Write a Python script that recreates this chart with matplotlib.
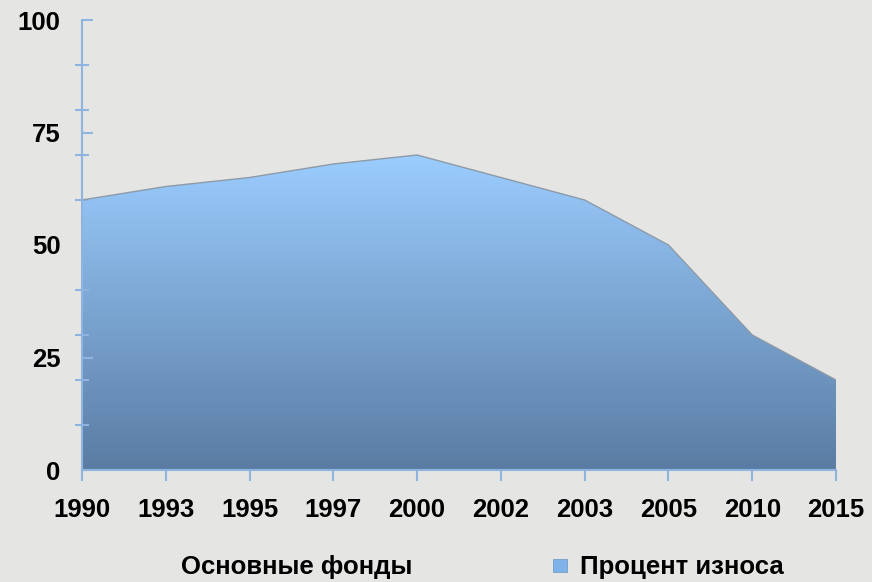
import numpy as np
import matplotlib
matplotlib.use("Agg")
import matplotlib.pyplot as plt
from matplotlib.colors import LinearSegmentedColormap
from matplotlib.patches import Polygon, Rectangle

years = ["1990", "1993", "1995", "1997", "2000", "2002", "2003", "2005", "2010", "2015"]
wear = [60, 63, 65, 68, 70, 65, 60, 50, 30, 20]
y_labels = [0, 25, 50, 75, 100]
series_name = "Процент износа"
x_title = "Основные фонды"

plt.rcParams['font.family'] = ['Liberation Sans', 'DejaVu Sans']
bg = "#e5e5e3"
fig = plt.figure(figsize=(8.72, 5.82), dpi=100, facecolor=bg)
ax = fig.add_axes([82/872, 1-470/582, (836-82)/872, 450/582])
ax.set_facecolor(bg)

x = np.arange(len(years))
ax.set_xlim(0, len(years)-1)
ax.set_ylim(0, 100)

# gradient fill
cmap = LinearSegmentedColormap.from_list("g", ["#5a7ca3", "#9bcdff"])
top = max(wear)
grad = np.linspace(0, 1, 256).reshape(-1, 1)
im = ax.imshow(grad, cmap=cmap, origin="lower", aspect="auto",
               extent=[0, len(years)-1, 0, top], zorder=1)
verts = [(0, 0)] + list(zip(x, wear)) + [(len(years)-1, 0)]
poly = Polygon(verts, closed=True, facecolor="none", edgecolor="none")
ax.add_patch(poly)
im.set_clip_path(poly)
ax.plot(x, wear, color="#8d9aa8", lw=1.0, zorder=2)
ax.plot([x[-1], x[-1]], [wear[-1], 0], color="#8d9aa8", lw=0.8, zorder=2)

for s in ["top", "right"]:
    ax.spines[s].set_visible(False)
for s in ["left", "bottom"]:
    ax.spines[s].set_color("#8fb4e0")
    ax.spines[s].set_linewidth(1.5)
    ax.spines[s].set_zorder(3)

ax.set_xticks(x)
ax.set_xticklabels(years, fontsize=18.5, fontweight="bold")
ax.tick_params(axis="x", direction="out", length=8, width=1.5, color="#8fb4e0", pad=12)

ax.set_yticks(y_labels)
ax.set_yticklabels([str(v) for v in y_labels], fontsize=18.5, fontweight="bold")
ax.tick_params(axis="y", direction="in", length=8, width=1.5, color="#8fb4e0", pad=15.5)
ax.set_yticks(np.arange(0, 101, 10), minor=True)
ax.tick_params(axis="y", which="minor", direction="inout", length=10, width=1.5, color="#8fb4e0")

fig.text(297/872, 1-567/582, x_title, fontsize=18.5, fontweight="bold", ha="center", va="center")
# legend
lx, ly = 553/872, 1-572/582
fig.patches.append(Rectangle((lx, ly), 14/872, 13/582, transform=fig.transFigure,
                             facecolor="#7fb2e8", edgecolor="#6a93c0", lw=0.5))
fig.text(580/872, 1-567/582, series_name, fontsize=18.5, fontweight="bold", ha="left", va="center")

fig.savefig("out.png", dpi=100, facecolor=bg)
